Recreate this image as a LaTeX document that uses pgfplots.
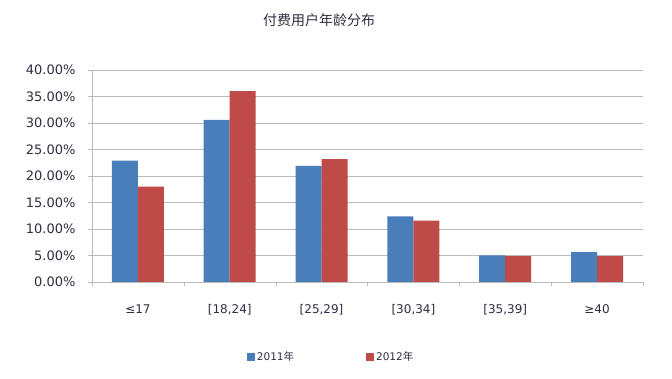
\documentclass[border=0pt]{standalone}
\usepackage{pgfplots}
\pgfplotsset{compat=1.18}
\usepackage{fontspec}
\setmainfont{DejaVu Sans}
\newfontfamily\cjk{Noto Sans CJK SC}
\definecolor{xblue}{HTML}{4A7EBB}
\definecolor{xred}{HTML}{BE4B48}
\definecolor{xtext}{HTML}{2E2E40}
\definecolor{xgrid}{HTML}{BBBBBB}
\begin{document}
\begin{tikzpicture}
\useasboundingbox (-92pt,-97pt) rectangle (580pt,282pt);
\begin{axis}[
  at={(0pt,0pt)}, anchor=south west,
  scale only axis, width=551pt, height=212pt,
  ybar=0pt, bar width=26pt,
  xmin=-0.5, xmax=5.5, ymin=0, ymax=40,
  xtick={0,...,5},
  xticklabels={≤17,{[18,24]},{[25,29]},{[30,34]},{[35,39]},≥40},
  minor xtick={-0.5,0.5,...,5.5},
  major x tick style={draw=none},
  minor tick length=4pt,
  ytick={0,5,...,40},
  yticklabels={0.00\%,5.00\%,10.00\%,15.00\%,20.00\%,25.00\%,30.00\%,35.00\%,40.00\%},
  major tick length=4pt,
  tick align=outside,
  tick style={xgrid},
  ymajorgrids, grid style={xgrid, line width=0.8pt},
  axis x line*=bottom, axis y line*=left,
  axis line style={xgrid, line width=0.8pt},
  every axis plot/.append style={draw=none},
  x tick label style={font=\fontsize{12}{14}\selectfont, text=xtext, yshift=-15pt},
  y tick label style={font=\fontsize{13}{15}\selectfont, text=xtext, xshift=-9pt},
  legend style={at={(0.434,-0.354)}, anchor=center, draw=none, fill=none,
    font=\fontsize{10.5}{12}\selectfont, text=xtext,
    legend columns=2, /tikz/every even column/.append style={column sep=70pt}},
  legend image code/.code={\fill[#1] (0pt,-4pt) rectangle (8pt,4pt);},
  clip=false,
]
\addplot[fill=xblue] coordinates {(0,22.9) (1,30.6) (2,21.9) (3,12.4) (4,5.0) (5,5.65)};
\addlegendentry{2011{\cjk 年}}
\addplot[fill=xred] coordinates {(0,18.0) (1,36.0) (2,23.2) (3,11.6) (4,4.9) (5,4.9)};
\addlegendentry{2012{\cjk 年}}
\end{axis}
\node[font=\cjk\fontsize{14}{16}\selectfont, text=xtext] at (227pt,262pt) {付费用户年龄分布};
\end{tikzpicture}
\end{document}
